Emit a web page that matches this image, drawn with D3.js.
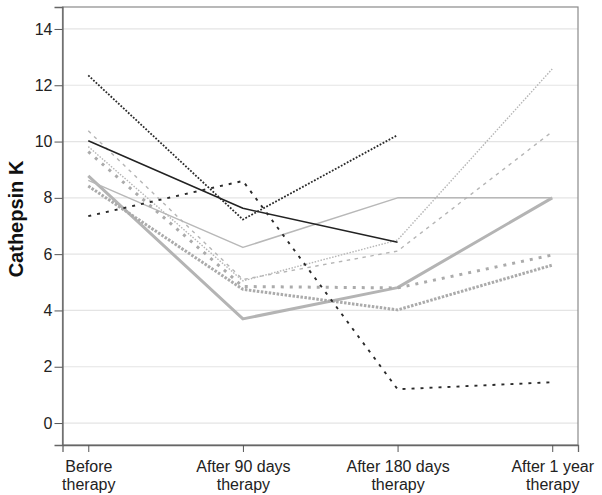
<!DOCTYPE html>
<html>
<head>
<meta charset="utf-8">
<script src="https://cdn.jsdelivr.net/npm/d3@7"></script>
<style>
  html, body { margin: 0; padding: 0; background: #fff; }
  svg { display: block; font-family: "Liberation Sans", Arial, sans-serif; }
</style>
</head>
<body>
<svg id="chart" width="602" height="495"></svg>
<script>
// ---- data ----
const categories = ["Before therapy", "After 90 days therapy", "After 180 days therapy", "After 1 year therapy"];
const categoryLines = [["Before", "therapy"], ["After 90 days", "therapy"], ["After 180 days", "therapy"], ["After 1 year", "therapy"]];
const yTicks = [0, 2, 4, 6, 8, 10, 12, 14];
const yTitle = "Cathepsin K";

const seriesBlackDotted   = [12.35, 7.23, 10.23, null];
const seriesBlackSolid    = [10.03, 7.63, 6.42, null];
const seriesDarkDashed    = [7.35, 8.60, 1.20, 1.45];
const seriesThinGray      = [8.62, 6.24, 8.00, 8.00];
const seriesThickGray     = [8.78, 3.70, 4.81, 8.00];
const seriesRoundDotsA    = [9.64, 4.85, 4.80, 5.97];
const seriesRoundDotsB    = [8.42, 4.75, 4.02, 5.61];
const seriesLightDashed   = [10.38, 5.10, 6.11, 10.35];
const seriesLightDotted   = [9.82, 5.05, 6.50, 12.58];

const seriesList = [
  { values: seriesThickGray,   style: { stroke: "#b4b4b4", width: 3,   dash: null } },
  { values: seriesThinGray,    style: { stroke: "#b8b8b8", width: 1.5, dash: null } },
  { values: seriesRoundDotsA,  style: { stroke: "#ababab", width: 3,   dash: "3,6" } },
  { values: seriesRoundDotsB,  style: { stroke: "#ababab", width: 3,   dash: "2.5,1.5" } },
  { values: seriesLightDashed, style: { stroke: "#b5b5b5", width: 1.4, dash: "3.5,4.5" } },
  { values: seriesLightDotted, style: { stroke: "#b5b5b5", width: 1.4, dash: "1.5,1.5" } },
  { values: seriesBlackSolid,  style: { stroke: "#222222", width: 1.5, dash: null } },
  { values: seriesBlackDotted, style: { stroke: "#2a2a2a", width: 1.8, dash: "1.8,1.6" } },
  { values: seriesDarkDashed,  style: { stroke: "#2a2a2a", width: 1.9, dash: "3,6" } }
];

// ---- layout ----
const svg = d3.select("#chart");
const plot = { left: 62.5, right: 578, top: 7, bottom: 445 };

const x = d3.scalePoint().domain(categories).range([plot.left, plot.right]).padding(0.1667);
const y = d3.scaleLinear().domain([-0.78, 14.78]).range([plot.bottom, plot.top]);

// gridlines
svg.append("g").selectAll("line").data(yTicks).join("line")
  .attr("x1", plot.left).attr("x2", plot.right)
  .attr("y1", d => y(d)).attr("y2", d => y(d))
  .attr("stroke", "#e4e4e4").attr("stroke-width", 1.2);

// lines
const line = d3.line()
  .defined(d => d.v != null)
  .x(d => x(d.c))
  .y(d => y(d.v));

svg.append("g").selectAll("path").data(seriesList).join("path")
  .attr("d", s => line(s.values.map((v, i) => ({ c: categories[i], v }))))
  .attr("fill", "none")
  .attr("stroke", s => s.style.stroke)
  .attr("stroke-width", s => s.style.width)
  .attr("stroke-dasharray", s => s.style.dash)
  .attr("stroke-linejoin", "round");

// frame
svg.append("rect")
  .attr("x", plot.left).attr("y", plot.top)
  .attr("width", plot.right - plot.left).attr("height", plot.bottom - plot.top)
  .attr("fill", "none").attr("stroke", "#8a8a8a").attr("stroke-width", 1.2);

// y axis
const yAxis = d3.axisLeft(y).tickValues(yTicks).tickSize(8).tickPadding(2).tickFormat(d3.format("d"));
const gy = svg.append("g").attr("transform", `translate(${plot.left},0)`).call(yAxis);
gy.select(".domain").attr("stroke", "#666").attr("stroke-width", 1.3);
gy.selectAll(".tick line").attr("stroke", "#555");
gy.selectAll(".tick text").attr("font-size", 16).attr("fill", "#222")
  .attr("font-family", "'Liberation Sans', Arial, sans-serif");

// x axis
const xAxis = d3.axisBottom(x).tickSize(7).tickFormat("");
const gx = svg.append("g").attr("transform", `translate(0,${plot.bottom})`).call(xAxis);
gx.select(".domain").attr("stroke", "#666").attr("stroke-width", 1.3);
gx.selectAll(".tick line").attr("stroke", "#555");

gx.selectAll(".tick").each(function(d, i) {
  const t = d3.select(this).append("text")
    .attr("fill", "#222").attr("font-size", 16).attr("text-anchor", "middle")
    .attr("font-family", "'Liberation Sans', Arial, sans-serif");
  categoryLines[i].forEach((ln, j) => {
    t.append("tspan").attr("x", 0).attr("y", 27 + j * 18).text(ln);
  });
});

// y title
svg.append("text")
  .attr("transform", `translate(23,219) rotate(-90)`)
  .attr("text-anchor", "middle")
  .attr("font-size", 20).attr("font-weight", "bold").attr("fill", "#111")
  .text(yTitle);
</script>
</body>
</html>
